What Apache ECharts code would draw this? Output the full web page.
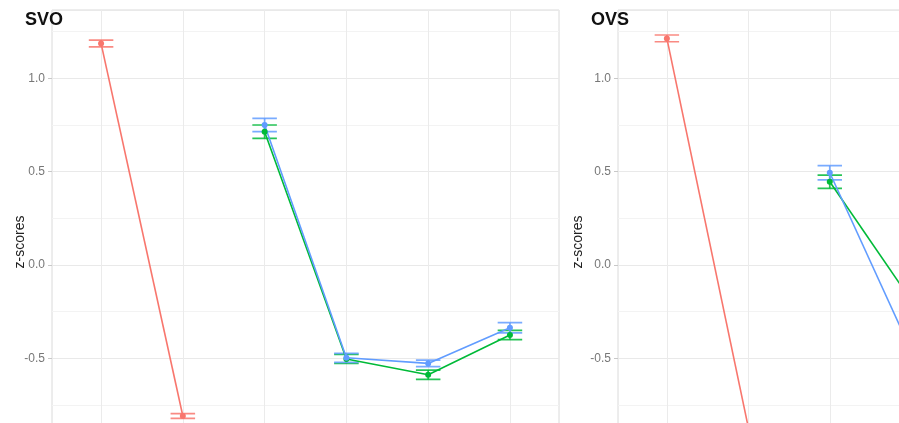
<!DOCTYPE html>
<html>
<head>
<meta charset="utf-8">
<script src="https://cdn.jsdelivr.net/npm/echarts@6/dist/echarts.min.js"></script>
<style>
html, body { margin: 0; padding: 0; background: #fff; }
#chart { width: 899px; height: 423px; }
</style>
</head>
<body>
<div id="chart"></div>
<script>
// x positions of the six conditions (labels are cropped out of the picture)
var xPos = [1, 2, 3, 4, 5, 6];
var yTicks = [-0.5, 0.0, 0.5, 1.0];

// SVO panel
var svoRed = [1.187, -0.809, null, null, null, null];
var svoRedErr = [0.018, 0.013, null, null, null, null];
var svoGreen = [null, null, 0.714, -0.503, -0.588, -0.375];
var svoGreenErr = [null, null, 0.036, 0.024, 0.025, 0.025];
var svoBlue = [null, null, 0.750, -0.497, -0.527, -0.336];
var svoBlueErr = [null, null, 0.036, 0.024, 0.017, 0.027];

// OVS panel (right side runs off the picture)
var ovsRed = [1.214, -0.870, null, null, null, null];
var ovsRedErr = [0.018, 0.015, null, null, null, null];
var ovsGreen = [null, null, 0.446, -0.190, null, null];
var ovsGreenErr = [null, null, 0.036, 0.030, null, null];
var ovsBlue = [null, null, 0.494, -0.460, null, null];
var ovsBlueErr = [null, null, 0.038, 0.030, null, null];

var RED = '#F8766D', GREEN = '#00BA38', BLUE = '#619CFF';
var FONT = 'Liberation Sans, Arial, sans-serif';

function pts(vals) {
  var out = [];
  for (var i = 0; i < vals.length; i++) {
    if (vals[i] != null) out.push([xPos[i], vals[i]]);
  }
  return out;
}
function errs(vals, e) {
  var out = [];
  for (var i = 0; i < vals.length; i++) {
    if (vals[i] != null) out.push([xPos[i], vals[i] - e[i], vals[i] + e[i]]);
  }
  return out;
}

function renderErr(params, api) {
  var x = api.value(0), lo = api.value(1), hi = api.value(2);
  var w = 0.15;
  var a = api.coord([x - w, hi]), b = api.coord([x + w, hi]);
  var c = api.coord([x - w, lo]), d = api.coord([x + w, lo]);
  var m1 = api.coord([x, hi]), m2 = api.coord([x, lo]);
  var st = { stroke: api.visual('color'), lineWidth: 1.7, opacity: 0.85 };
  return {
    type: 'group',
    children: [
      { type: 'line', shape: { x1: a[0], y1: a[1], x2: b[0], y2: b[1] }, style: st },
      { type: 'line', shape: { x1: c[0], y1: c[1], x2: d[0], y2: d[1] }, style: st },
      { type: 'line', shape: { x1: m1[0], y1: m1[1], x2: m2[0], y2: m2[1] }, style: st }
    ]
  };
}

function lineSeries(vals, color, xi, yi) {
  return {
    type: 'line', xAxisIndex: xi, yAxisIndex: yi,
    data: pts(vals),
    symbol: 'circle', symbolSize: 6,
    itemStyle: { color: color },
    lineStyle: { color: color, width: 1.6 },
    animation: false, silent: true
  };
}
function errSeries(vals, e, color, xi, yi) {
  return {
    type: 'custom', xAxisIndex: xi, yAxisIndex: yi,
    data: errs(vals, e),
    encode: { x: 0, y: [1, 2] },
    itemStyle: { color: color },
    renderItem: renderErr,
    clip: true, animation: false, silent: true
  };
}

function xAxisFor(g) {
  return {
    type: 'value', gridIndex: g, min: 0.4, max: 6.6,
    axisLine: { show: false },
    axisTick: { show: false, customValues: xPos },
    axisLabel: { show: false },
    splitLine: { show: true, lineStyle: { color: '#EBEBEB', width: 1 } }
  };
}
function yLabelAxis(g) {
  return {
    type: 'value', gridIndex: g, min: -1.0, max: 1.366, position: 'left',
    axisLine: { show: false },
    axisTick: { show: true, length: 4, customValues: yTicks, lineStyle: { color: '#C8C8C8' } },
    axisLabel: {
      customValues: yTicks, margin: 7, color: '#777777', fontSize: 12, fontFamily: FONT,
      formatter: function (v) { return v.toFixed(1); }
    },
    splitLine: { show: false }
  };
}
function yGridAxis(g) {
  return {
    type: 'value', gridIndex: g, min: -1.0, max: 1.366, interval: 0.25,
    axisLine: { show: false }, axisTick: { show: false }, axisLabel: { show: false },
    splitLine: { show: true, lineStyle: { color: ['#E9E9E9', '#F3F3F3'], width: 1 } }
  };
}

var option = {
  backgroundColor: '#fff',
  animation: false,
  title: [
    { text: 'SVO', left: 20, top: 6, textStyle: { fontSize: 18, fontWeight: 'bold', color: '#111', fontFamily: FONT } },
    { text: 'OVS', left: 586, top: 6, textStyle: { fontSize: 18, fontWeight: 'bold', color: '#111', fontFamily: FONT } }
  ],
  grid: [
    { left: 52, top: 10, width: 507, height: 441.7, outerBoundsMode: 'none', containLabel: false,
      show: true, borderColor: '#DADADA', borderWidth: 1, backgroundColor: 'transparent' },
    { left: 618, top: 10, width: 505, height: 441.7, outerBoundsMode: 'none', containLabel: false,
      show: true, borderColor: '#DADADA', borderWidth: 1, backgroundColor: 'transparent' }
  ],
  xAxis: [xAxisFor(0), xAxisFor(1)],
  yAxis: [yLabelAxis(0), yGridAxis(0), yLabelAxis(1), yGridAxis(1)],
  graphic: [
    { type: 'text', x: 20, y: 242, rotation: Math.PI / 2,
      style: { text: 'z-scores', fill: '#222', font: '14px ' + FONT, textAlign: 'center', textVerticalAlign: 'middle' } },
    { type: 'text', x: 578, y: 242, rotation: Math.PI / 2,
      style: { text: 'z-scores', fill: '#222', font: '14px ' + FONT, textAlign: 'center', textVerticalAlign: 'middle' } }
  ],
  series: [
    lineSeries(svoRed, RED, 0, 0),
    errSeries(svoRed, svoRedErr, RED, 0, 0),
    lineSeries(svoGreen, GREEN, 0, 0),
    errSeries(svoGreen, svoGreenErr, GREEN, 0, 0),
    lineSeries(svoBlue, BLUE, 0, 0),
    errSeries(svoBlue, svoBlueErr, BLUE, 0, 0),
    lineSeries(ovsRed, RED, 1, 2),
    errSeries(ovsRed, ovsRedErr, RED, 1, 2),
    lineSeries(ovsGreen, GREEN, 1, 2),
    errSeries(ovsGreen, ovsGreenErr, GREEN, 1, 2),
    lineSeries(ovsBlue, BLUE, 1, 2),
    errSeries(ovsBlue, ovsBlueErr, BLUE, 1, 2)
  ]
};

var myChart = echarts.init(document.getElementById('chart'));
myChart.setOption(option);
</script>
</body>
</html>
